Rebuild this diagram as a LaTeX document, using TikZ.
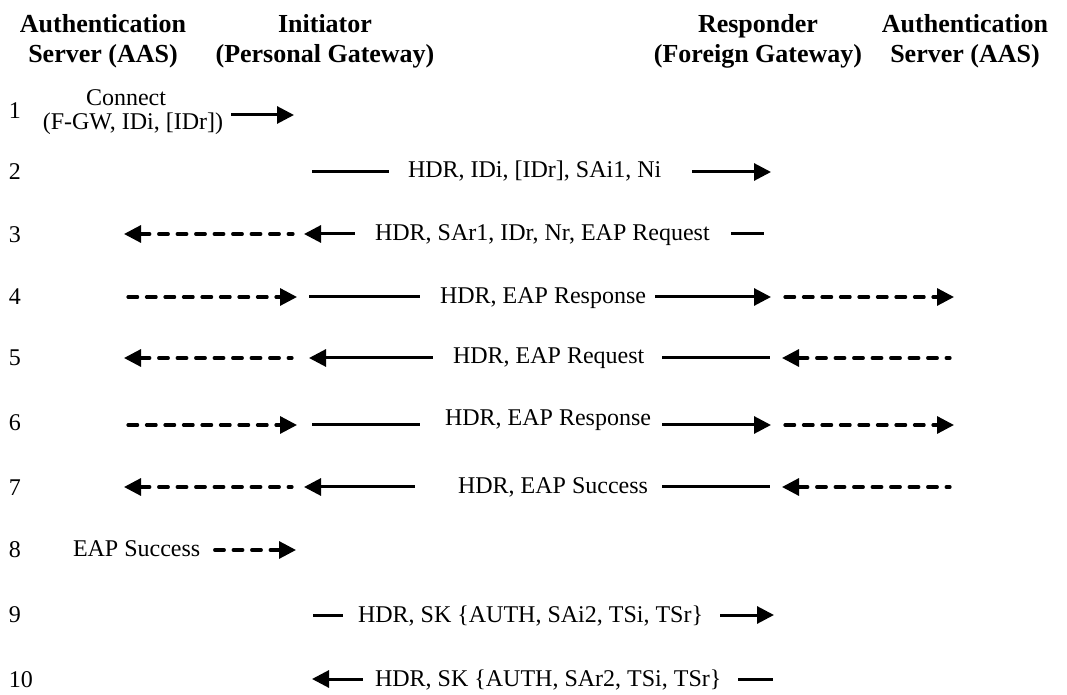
\documentclass[tikz,border=0pt]{standalone}
\usepackage{fontspec}
\setmainfont{Liberation Serif}
\usetikzlibrary{arrows.meta}
\begin{document}
\begin{tikzpicture}[x=0.5pt,y=-0.5pt,
  every node/.style={inner sep=0pt, outer sep=0pt},
  party/.style={font=\fontsize{13}{15}\selectfont\bfseries, align=center, anchor=north},
  msgtext/.style={font=\fontsize{12}{14}\selectfont, anchor=base west},
  stepno/.style={font=\fontsize{12}{14}\selectfont, anchor=base west},
  link/.style={line width=1.5pt},
  relay/.style={line width=1.6pt, line cap=round, dash pattern=on 4.8pt off 4.45pt},
  >={Triangle[length=8.5pt,width=8.5pt]}
]
\useasboundingbox (0,0) rectangle (1067,695);

% parties
\node[party] (aasI) at (103,14.5) {Authentication\\Server (AAS)};
\node[party] (init) at (325,14.5) {Initiator\\(Personal Gateway)};
\node[party] (resp) at (758,14.5) {Responder\\(Foreign Gateway)};
\node[party] (aasR) at (965,14.5) {Authentication\\Server (AAS)};

% step numbers
\foreach \n/\y in {1/119,2/180,3/243,4/305,5/366,6/431,7/495,8/558,9/623,10/687}
  \node[stepno] (n\n) at (9,\y) {\n};

% 1: connect request
\node[msgtext, anchor=base] (conn) at (126,106) {Connect};
\node[msgtext, anchor=base] (connargs) at (133,130) {(F-GW, IDi, [IDr])};
\coordinate (a1) at (231,115); \coordinate (b1) at (294,115);
\draw[link,->] (a1) -- (b1);

% 2: IKE_SA_INIT request
\coordinate (a2) at (312,172); \coordinate (b2) at (389,172);
\node[msgtext] (m2) at (408,178) {HDR, IDi, [IDr], SAi1, Ni};
\coordinate (c2) at (692,172); \coordinate (d2) at (771,172);
\draw[link] (a2) -- (b2);
\draw[link,->] (c2) -- (d2);

% 3: response with EAP request
\coordinate (a3) at (124,234); \coordinate (b3) at (293,234);
\coordinate (c3) at (304,234); \coordinate (d3) at (355,234);
\node[msgtext] (m3) at (375,241) {HDR, SAr1, IDr, Nr, EAP Request};
\coordinate (e3) at (731,234); \coordinate (f3) at (764,234);
\draw[relay,<-] (a3) -- (b3);
\draw[link,<-] (c3) -- (d3);
\draw[link] (e3) -- (f3);

% 4: EAP response
\coordinate (a4) at (128,297); \coordinate (b4) at (297,297);
\coordinate (c4) at (309,297); \coordinate (d4) at (420,297);
\node[msgtext] (m4) at (440,304) {HDR, EAP Response};
\coordinate (e4) at (655,297); \coordinate (f4) at (771,297);
\coordinate (g4) at (785,297); \coordinate (h4) at (954,297);
\draw[relay,->] (a4) -- (b4);
\draw[link] (c4) -- (d4);
\draw[link,->] (e4) -- (f4);
\draw[relay,->] (g4) -- (h4);

% 5: EAP request
\coordinate (a5) at (124,358); \coordinate (b5) at (292,358);
\coordinate (c5) at (309,358); \coordinate (d5) at (433,358);
\node[msgtext] (m5) at (453,364) {HDR, EAP Request};
\coordinate (e5) at (662,358); \coordinate (f5) at (770,358);
\coordinate (g5) at (782,358); \coordinate (h5) at (950,358);
\draw[relay,<-] (a5) -- (b5);
\draw[link,<-] (c5) -- (d5);
\draw[link] (e5) -- (f5);
\draw[relay,<-] (g5) -- (h5);

% 6: EAP response
\coordinate (a6) at (128,425); \coordinate (b6) at (297,425);
\coordinate (c6) at (312,425); \coordinate (d6) at (420,425);
\node[msgtext] (m6) at (445,426) {HDR, EAP Response};
\coordinate (e6) at (662,425); \coordinate (f6) at (771,425);
\coordinate (g6) at (785,425); \coordinate (h6) at (954,425);
\draw[relay,->] (a6) -- (b6);
\draw[link] (c6) -- (d6);
\draw[link,->] (e6) -- (f6);
\draw[relay,->] (g6) -- (h6);

% 7: EAP success
\coordinate (a7) at (124,487); \coordinate (b7) at (292,487);
\coordinate (c7) at (304,487); \coordinate (d7) at (415,487);
\node[msgtext] (m7) at (458,494) {HDR, EAP Success};
\coordinate (e7) at (662,487); \coordinate (f7) at (770,487);
\coordinate (g7) at (782,487); \coordinate (h7) at (950,487);
\draw[relay,<-] (a7) -- (b7);
\draw[link,<-] (c7) -- (d7);
\draw[link] (e7) -- (f7);
\draw[relay,<-] (g7) -- (h7);

% 8: EAP success forwarded
\node[msgtext] (m8) at (73,557) {EAP Success};
\coordinate (a8) at (210,550); \coordinate (b8) at (296,550);
\draw[relay,<-] (b8) -- (a8);

% 9: IKE_AUTH request
\coordinate (a9) at (313,615); \coordinate (b9) at (343,615);
\node[msgtext] (m9) at (358,622) {HDR, SK \{AUTH, SAi2, TSi, TSr\}};
\coordinate (c9) at (720,615); \coordinate (d9) at (774,615);
\draw[link] (a9) -- (b9);
\draw[link,->] (c9) -- (d9);

% 10: IKE_AUTH response
\coordinate (a10) at (312,679); \coordinate (b10) at (363,679);
\node[msgtext] (m10) at (375,686) {HDR, SK \{AUTH, SAr2, TSi, TSr\}};
\coordinate (c10) at (738,679); \coordinate (d10) at (773,679);
\draw[link,<-] (a10) -- (b10);
\draw[link] (c10) -- (d10);
\end{tikzpicture}
\end{document}
